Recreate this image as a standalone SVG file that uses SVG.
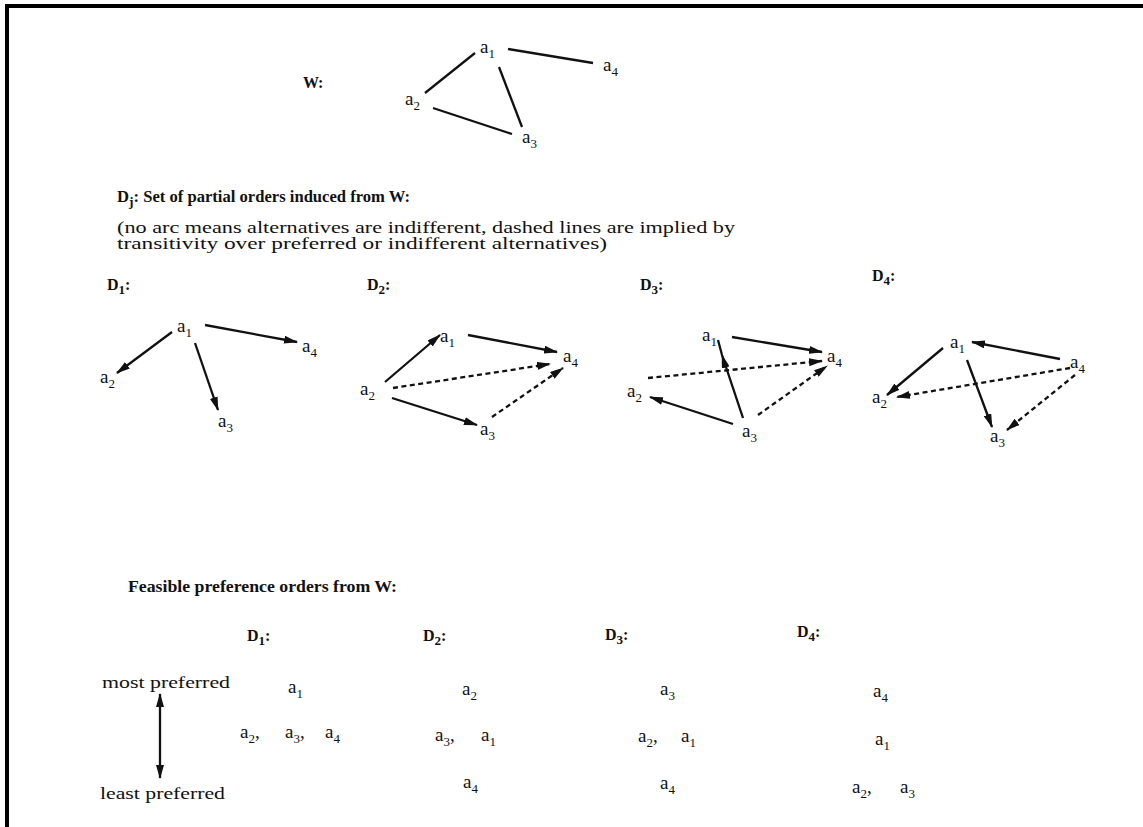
<svg xmlns="http://www.w3.org/2000/svg" width="1143" height="827" viewBox="0 0 1143 827">
<style>
text{font-family:"Liberation Serif","DejaVu Serif",serif;fill:#111}
.b{font-weight:bold;font-size:16px}
.lbl{font-size:19px}
.s{font-size:13px}
.t{font-size:16px}
.e{stroke:#111;stroke-width:2.3;fill:none}
.d{stroke:#111;stroke-width:2.3;fill:none;stroke-dasharray:5 3.5}
.a{marker-end:url(#ah)}
</style>
<defs>
<marker id="ah" markerUnits="userSpaceOnUse" markerWidth="14" markerHeight="8" refX="13" refY="4" orient="auto-start-reverse"><path d="M0,0 L14,4 L0,8 Z" fill="#111"/></marker>
</defs>
<rect width="1143" height="827" fill="#fff"/>
<path d="M7,827 V6 H1143" fill="none" stroke="#000" stroke-width="4"/>

<!-- W graph -->
<text id="w-label" class="b" x="303" y="88">W:</text>
<g id="w-a1"><text class="lbl" x="480" y="53">a<tspan class="s" dy="5">1</tspan></text></g>
<g id="w-a2"><text class="lbl" x="405" y="105">a<tspan class="s" dy="5">2</tspan></text></g>
<g id="w-a3"><text class="lbl" x="522" y="143">a<tspan class="s" dy="5">3</tspan></text></g>
<g id="w-a4"><text class="lbl" x="603" y="71">a<tspan class="s" dy="5">4</tspan></text></g>

<text class="b" x="117" y="202" textLength="293" lengthAdjust="spacingAndGlyphs">D<tspan class="s" dy="4">j</tspan><tspan dy="-4">: Set of partial orders induced from W:</tspan></text>
<text class="t" x="117" y="233" textLength="618" lengthAdjust="spacingAndGlyphs">(no arc means alternatives are indifferent, dashed lines are implied by</text>
<text class="t" x="117" y="249" textLength="490" lengthAdjust="spacingAndGlyphs">transitivity over preferred or indifferent alternatives)</text>

<!-- D1 -->
<text id="d1-label" class="b" x="107" y="290">D<tspan class="s" dy="4">1</tspan><tspan dy="-4">:</tspan></text>
<g id="d1-a1"><text class="lbl" x="177" y="332">a<tspan class="s" dy="5">1</tspan></text></g>
<g id="d1-a2"><text class="lbl" x="100" y="383">a<tspan class="s" dy="5">2</tspan></text></g>
<g id="d1-a3"><text class="lbl" x="218" y="427">a<tspan class="s" dy="5">3</tspan></text></g>
<g id="d1-a4"><text class="lbl" x="302" y="352">a<tspan class="s" dy="5">4</tspan></text></g>

<!-- D2 -->
<text id="d2-label" class="b" x="367" y="290">D<tspan class="s" dy="4">2</tspan><tspan dy="-4">:</tspan></text>
<g id="d2-a1"><text class="lbl" x="440" y="342">a<tspan class="s" dy="5">1</tspan></text></g>
<g id="d2-a2"><text class="lbl" x="360" y="395">a<tspan class="s" dy="5">2</tspan></text></g>
<g id="d2-a3"><text class="lbl" x="480" y="435">a<tspan class="s" dy="5">3</tspan></text></g>
<g id="d2-a4"><text class="lbl" x="563" y="362">a<tspan class="s" dy="5">4</tspan></text></g>

<!-- D3 -->
<text id="d3-label" class="b" x="640" y="290">D<tspan class="s" dy="4">3</tspan><tspan dy="-4">:</tspan></text>
<g id="d3-a1"><text class="lbl" x="702" y="341">a<tspan class="s" dy="5">1</tspan></text></g>
<g id="d3-a2"><text class="lbl" x="627" y="397">a<tspan class="s" dy="5">2</tspan></text></g>
<g id="d3-a3"><text class="lbl" x="742" y="437">a<tspan class="s" dy="5">3</tspan></text></g>
<g id="d3-a4"><text class="lbl" x="827" y="362">a<tspan class="s" dy="5">4</tspan></text></g>

<!-- D4 -->
<text id="d4-label" class="b" x="872" y="281">D<tspan class="s" dy="4">4</tspan><tspan dy="-4">:</tspan></text>
<g id="d4-a1"><text class="lbl" x="950" y="348">a<tspan class="s" dy="5">1</tspan></text></g>
<g id="d4-a2"><text class="lbl" x="872" y="403">a<tspan class="s" dy="5">2</tspan></text></g>
<g id="d4-a3"><text class="lbl" x="990" y="442">a<tspan class="s" dy="5">3</tspan></text></g>
<g id="d4-a4"><text class="lbl" x="1070" y="368">a<tspan class="s" dy="5">4</tspan></text></g>

<g id="connectors">
<!-- W -->
<line class="e" x1="475" y1="53" x2="425" y2="93"/>
<line class="e" x1="508" y1="49" x2="593" y2="63"/>
<line class="e" x1="499" y1="67" x2="522" y2="127"/>
<line class="e" x1="433" y1="108" x2="512" y2="134"/>
<!-- D1 -->
<line class="e a" x1="172" y1="332" x2="117" y2="373"/>
<line class="e a" x1="205" y1="325" x2="297" y2="342"/>
<line class="e a" x1="195" y1="343" x2="218" y2="410"/>
<!-- D2 -->
<line class="e a" x1="385" y1="382" x2="440" y2="335"/>
<line class="e a" x1="468" y1="335" x2="557" y2="352"/>
<line class="d a" x1="393" y1="388" x2="550" y2="364"/>
<line class="e a" x1="392" y1="398" x2="477" y2="425"/>
<line class="d a" x1="492" y1="417" x2="563" y2="368"/>
<!-- D3 -->
<line class="e a" x1="732" y1="337" x2="822" y2="352"/>
<path class="e" d="M743,418 L722,355 L718,340" marker-mid="url(#ah)"/>
<line class="d a" x1="648" y1="378" x2="822" y2="361"/>
<line class="e a" x1="733" y1="424" x2="650" y2="397"/>
<line class="d a" x1="758" y1="415" x2="827" y2="366"/>
<!-- D4 -->
<line class="e a" x1="1060" y1="359" x2="972" y2="342"/>
<line class="e a" x1="943" y1="348" x2="887" y2="395"/>
<line class="d a" x1="1070" y1="368" x2="897" y2="397"/>
<line class="e a" x1="967" y1="360" x2="992" y2="427"/>
<line class="d a" x1="1075" y1="375" x2="1007" y2="430"/>
<!-- preference axis -->
<line class="e" x1="160" y1="694" x2="160" y2="778" marker-start="url(#ah)" marker-end="url(#ah)"/>
</g>

<!-- Feasible preference orders -->
<text class="b" x="128" y="592" textLength="269" lengthAdjust="spacingAndGlyphs">Feasible preference orders from W:</text>
<text class="b" x="247" y="641">D<tspan class="s" dy="4">1</tspan><tspan dy="-4">:</tspan></text>
<text class="b" x="423" y="641">D<tspan class="s" dy="4">2</tspan><tspan dy="-4">:</tspan></text>
<text class="b" x="605" y="640">D<tspan class="s" dy="4">3</tspan><tspan dy="-4">:</tspan></text>
<text class="b" x="797" y="637">D<tspan class="s" dy="4">4</tspan><tspan dy="-4">:</tspan></text>
<text class="t" x="102" y="688" textLength="128" lengthAdjust="spacingAndGlyphs">most preferred</text>
<text class="t" x="100" y="799" textLength="125" lengthAdjust="spacingAndGlyphs">least preferred</text>

<g id="p1">
<text class="lbl" x="288" y="693">a<tspan class="s" dy="5">1</tspan></text>
<text class="lbl" x="240" y="738">a<tspan class="s" dy="5">2</tspan><tspan dy="-5">,</tspan><tspan x="285">a</tspan><tspan class="s" dy="5">3</tspan><tspan dy="-5">,</tspan><tspan x="325">a</tspan><tspan class="s" dy="5">4</tspan></text>
</g>
<g id="p2">
<text class="lbl" x="462" y="695">a<tspan class="s" dy="5">2</tspan></text>
<text class="lbl" x="435" y="741">a<tspan class="s" dy="5">3</tspan><tspan dy="-5">,</tspan><tspan x="481">a</tspan><tspan class="s" dy="5">1</tspan></text>
<text class="lbl" x="463" y="788">a<tspan class="s" dy="5">4</tspan></text>
</g>
<g id="p3">
<text class="lbl" x="660" y="695">a<tspan class="s" dy="5">3</tspan></text>
<text class="lbl" x="638" y="742">a<tspan class="s" dy="5">2</tspan><tspan dy="-5">,</tspan><tspan x="681">a</tspan><tspan class="s" dy="5">1</tspan></text>
<text class="lbl" x="660" y="789">a<tspan class="s" dy="5">4</tspan></text>
</g>
<g id="p4">
<text class="lbl" x="873" y="697">a<tspan class="s" dy="5">4</tspan></text>
<text class="lbl" x="875" y="745">a<tspan class="s" dy="5">1</tspan></text>
<text class="lbl" x="852" y="793">a<tspan class="s" dy="5">2</tspan><tspan dy="-5">,</tspan><tspan x="900">a</tspan><tspan class="s" dy="5">3</tspan></text>
</g>
</svg>
